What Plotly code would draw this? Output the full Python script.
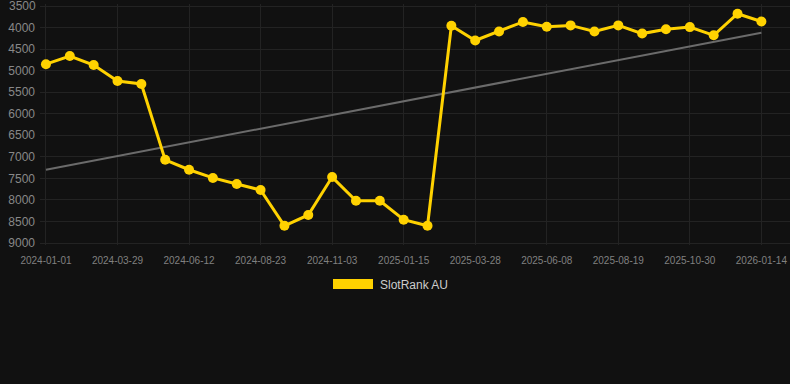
import plotly.graph_objects as go

dates = ["2024-01-01", "2024-01-30", "2024-02-28", "2024-03-29", "2024-04-23", "2024-05-18",
         "2024-06-12", "2024-07-06", "2024-07-30", "2024-08-23", "2024-09-16", "2024-10-10",
         "2024-11-03", "2024-11-27", "2024-12-21", "2025-01-15", "2025-02-08", "2025-03-04",
         "2025-03-28", "2025-04-21", "2025-05-15", "2025-06-08", "2025-07-02", "2025-07-26",
         "2025-08-19", "2025-09-12", "2025-10-06", "2025-10-30", "2025-11-24", "2025-12-19",
         "2026-01-14"]
rank = [4850, 4660, 4870, 5240, 5310, 7070, 7300, 7490, 7630, 7770, 8600, 8350,
        7470, 8020, 8020, 8460, 8600, 3960, 4300, 4090, 3870, 3980, 3950, 4090,
        3950, 4140, 4040, 3990, 4180, 3680, 3860]
trend_x = [dates[0], dates[-1]]
trend_y = [7300, 4120]
tick_labels = dates[::3]
y_ticks = [3500, 4000, 4500, 5000, 5500, 6000, 6500, 7000, 7500, 8000, 8500, 9000]

YELLOW = "#FFD200"
TICK_FONT = dict(size=12, color="#888888", family="Liberation Sans, Arial")

# plot area in pixels: x 40..790, y 4..245 ; 3500 at y=6, 9000 at y=243
PT, PB, PL, PR = 4, 245, 40, 790
PXU = 21.55 / 500.0
Y_TOP = 3500 - (6 - PT) / PXU
Y_BOT = 9000 + (PB - 243) / PXU

def px(x):
    return (x - PL) / (PR - PL)
def py(y):
    return (PB - y) / (PB - PT)

fig = go.Figure()
fig.add_trace(go.Scatter(x=trend_x, y=trend_y, mode="lines",
                         line=dict(color="#6b6b6b", width=2), showlegend=False, hoverinfo="skip"))
fig.add_trace(go.Scatter(x=dates, y=rank, mode="lines+markers", name="SlotRank AU",
                         line=dict(color=YELLOW, width=3),
                         marker=dict(color=YELLOW, size=10), showlegend=False))

# top tick label (plotly hides labels that overflow the page edge)
fig.add_annotation(text=str(y_ticks[0]), xref="paper", yref="y", x=0, y=y_ticks[0],
                   xanchor="right", yanchor="middle", xshift=-3, yshift=0,
                   showarrow=False, font=TICK_FONT, borderpad=0)

# legend
fig.add_shape(type="rect", xref="paper", yref="paper",
              x0=px(333), x1=px(373), y0=py(279), y1=py(289),
              fillcolor=YELLOW, line=dict(width=0))
fig.add_annotation(text="SlotRank AU", xref="paper", yref="paper",
                   x=px(378), y=py(284.5),
                   xanchor="left", yanchor="middle", showarrow=False,
                   font=dict(color="#cccccc", size=12, family="Liberation Sans, Arial"))

fig.update_layout(
    width=790, height=384,
    margin=dict(l=PL, r=0, t=PT, b=384 - PB),
    paper_bgcolor="#111111", plot_bgcolor="#111111",
    font=dict(family="Liberation Sans, Arial", color="#888888"),
    xaxis=dict(type="category", categoryorder="array", categoryarray=dates,
               range=[-0.25, 31.2], tickmode="array", tickvals=tick_labels,
               ticktext=tick_labels, tickfont=dict(size=10, color="#808080"),
               showgrid=True, gridcolor="#232323", gridwidth=1, zeroline=False,
               showline=False, ticks="", ticklabelstandoff=8),
    yaxis=dict(range=[Y_BOT, Y_TOP], tickmode="array", tickvals=y_ticks,
               ticktext=[""] + [str(v) for v in y_ticks[1:]],
               tickfont=TICK_FONT, showgrid=True,
               gridcolor="#232323", gridwidth=1, zeroline=False, showline=False,
               ticks="", ticklabelstandoff=4),
)

fig.write_html("out.html")
